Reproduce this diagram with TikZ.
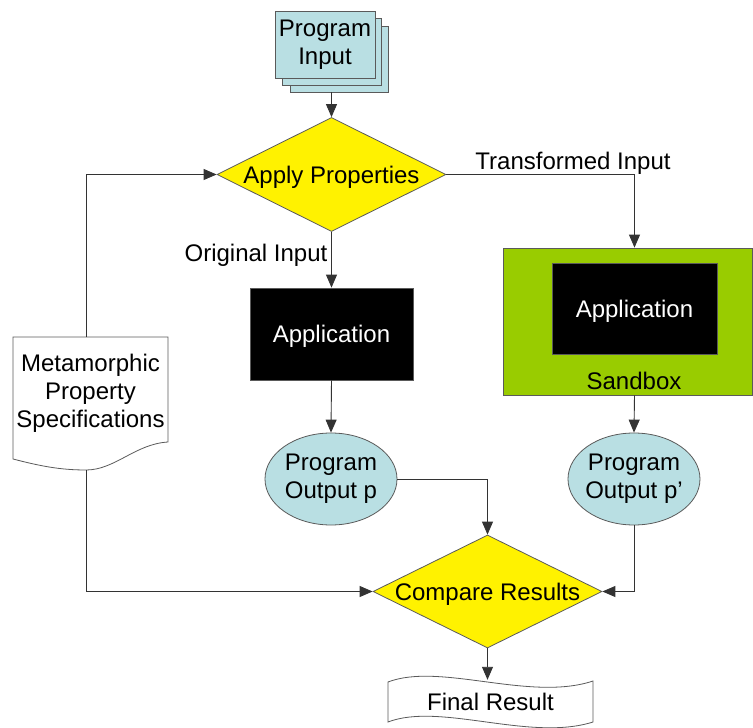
\documentclass[tikz,border=0pt]{standalone}
\usepackage{fontspec}
\setmainfont{Liberation Sans}
\usetikzlibrary{shapes.geometric,arrows.meta,calc}
\definecolor{lblue}{HTML}{B9DFE3}
\definecolor{ygreen}{HTML}{99CC00}
\definecolor{edgegray}{HTML}{5A5A5A}
\newcommand{\mylines}[1]{\makebox[0pt]{\begin{tabular}{@{}c@{}}#1\end{tabular}}}
\begin{document}
\begin{tikzpicture}[x=1pt,y=-1pt,
  every node/.style={font=\fontsize{24}{28}\selectfont},
  conn/.style={draw=black!80, line width=0.9pt, -{Triangle[length=13pt,width=11pt]}},
  outl/.style={draw=edgegray, line width=0.8pt},
  oneline/.style={text depth=0pt},
  decision/.style={shape=diamond, outl, fill=yellow, inner sep=0pt, minimum width=229pt, minimum height=114pt, oneline},
  appbox/.style={shape=rectangle, outl, fill=black, text=white, inner sep=0pt, oneline},
  outell/.style={shape=ellipse, outl, fill=lblue, inner sep=0pt, minimum width=132pt, minimum height=92pt},
  lbl/.style={inner sep=0pt, oneline}
]
\useasboundingbox (0,0) rectangle (753,728);

% Program Input (stacked documents)
\draw[outl, fill=lblue] (290,26) rectangle (388,92);
\draw[outl, fill=lblue] (282,18) rectangle (381,85);
\node[shape=rectangle, outl, fill=lblue, minimum width=100pt, minimum height=67pt, inner sep=0pt] (input) at (325,45) {\mylines{Program\\Input}};
\coordinate (stackbot) at (331.5,92);

% Apply Properties
\node[decision] (apply) at (331.5,174.5) {\makebox[0pt]{Apply Properties}};

% Application (left)
\node[appbox, minimum width=163pt, minimum height=92pt] (app1) at (331.5,334) {Application};

% Sandbox
\node[shape=rectangle, outl, fill=ygreen, minimum width=249pt, minimum height=147pt, inner sep=0pt] (sandbox) at (627.5,321.5) {};
\node[appbox, minimum width=165pt, minimum height=91pt] (app2) at (634.5,308.5) {Application};
\node[lbl] (sblabel) at (634,381) {Sandbox};

% Outputs
\node[outell] (pop1) at (331,479) {\mylines{Program\\Output p}};
\node[outell] (pop2) at (634,479) {\mylines{Program\\Output p'}};

% Compare Results
\node[decision, minimum height=113pt] (cmp) at (487.5,591.5) {\makebox[0pt]{Compare Results}};

% Metamorphic Property Specifications (document shape)
\draw[outl, fill=white] (13,337) -- (168,337) -- (168,442)
  .. controls (135,444) and (115,470) .. (86,470)
  .. controls (60,470) and (40,466) .. (13,459) -- cycle;
\node[shape=rectangle, inner sep=0pt, minimum width=155pt, minimum height=112pt] (meta) at (90.5,394) {\mylines{Metamorphic\\Property\\Specifications}};
\coordinate (metatop) at (86,337);
\coordinate (metabot) at (86,470);

% Final Result (tape shape)
\draw[outl, fill=white] (388,682) .. controls (440,662) and (530,702) .. (593,681)
  -- (593,722) .. controls (530,742) and (440,702) .. (388,722) -- cycle;
\node[shape=rectangle, inner sep=0pt, minimum width=205pt, minimum height=44pt, oneline] (final) at (490.5,702) {Final Result};

% Labels
\node[lbl] (tlabel) at (573,161) {Transformed Input};
\node[lbl] (olabel) at (256,253) {Original Input};

% Connectors
\draw[conn] (stackbot) -- (apply.north);
\draw[conn] (metatop) |- (apply.west);
\draw[conn] (apply.east) -| (app2.north |- sandbox.north);
\draw[conn] (apply.south) -- (app1.north);
\draw[conn] (app1.south) -- (pop1.north);
\draw[conn] (app2.south |- sandbox.south) -- (pop2.north);
\draw[conn] (pop1.east) -| (cmp.north);
\draw[conn] (pop2.south) |- (cmp.east);
\draw[conn] (metabot) |- (cmp.west);
\draw[conn] (cmp.south) -- (cmp.south |- final.north);
\end{tikzpicture}
\end{document}
